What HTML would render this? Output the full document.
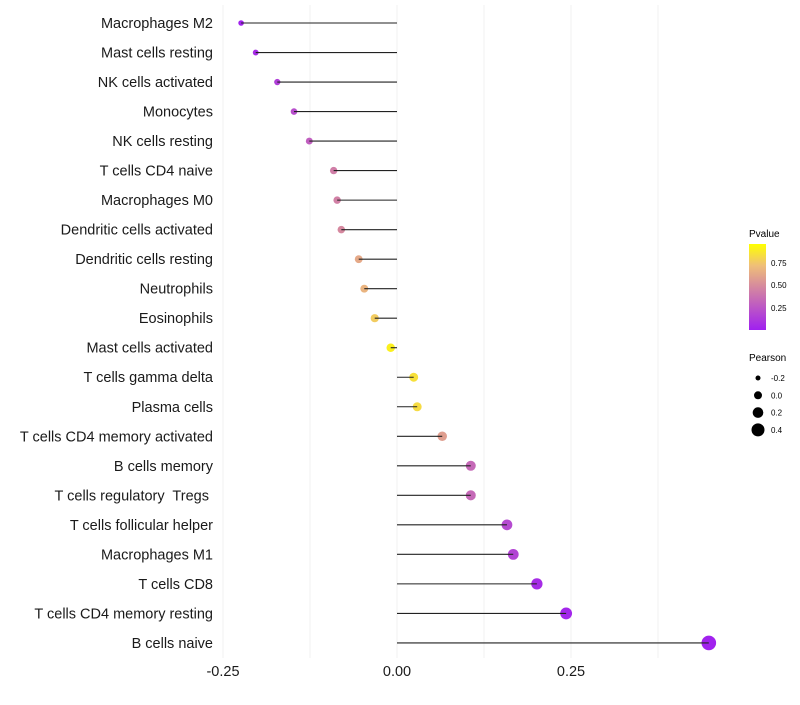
<!DOCTYPE html>
<html><head><meta charset="utf-8"><style>
body{margin:0;background:#fff;font-family:"Liberation Sans",Arial,sans-serif}
svg text{font-family:"Liberation Sans",Arial,sans-serif;white-space:pre}
</style></head><body>
<svg id="chart" width="800" height="700">
<defs><linearGradient id="pg" x1="0" y1="1" x2="0" y2="0">
<stop offset="0" stop-color="#a020f0"/><stop offset="0.5" stop-color="#d5889f"/><stop offset="0.75" stop-color="#efbf78"/><stop offset="1" stop-color="#ffff00"/></linearGradient></defs>
<g id="grid"></g><g id="dots"></g><g id="marks"></g><g id="ylab"></g><g id="xlab"></g>
<g>
<text x="749" y="237" font-size="10">Pvalue</text>
<rect x="749" y="244" width="17" height="86" fill="url(#pg)"/>
<text x="771" y="266" font-size="8">0.75</text><text x="771" y="288" font-size="8">0.50</text><text x="771" y="311" font-size="8">0.25</text>
</g>
<g id="sizeleg"><text x="749" y="361" font-size="10">Pearson</text></g>
</svg>
<script>
const categories=["Macrophages M2","Mast cells resting","NK cells activated","Monocytes","NK cells resting","T cells CD4 naive","Macrophages M0","Dendritic cells activated","Dendritic cells resting","Neutrophils","Eosinophils","Mast cells activated","T cells gamma delta","Plasma cells","T cells CD4 memory activated","B cells memory","T cells regulatory  Tregs ","T cells follicular helper","Macrophages M1","T cells CD8","T cells CD4 memory resting","B cells naive"];
const pearson=[-0.224,-0.203,-0.172,-0.148,-0.126,-0.091,-0.086,-0.080,-0.055,-0.047,-0.032,-0.009,0.024,0.029,0.065,0.106,0.106,0.158,0.167,0.201,0.243,0.448];
const pvalues=[0.01,0.06,0.15,0.22,0.3,0.45,0.46,0.5,0.65,0.7,0.8,0.94,0.88,0.86,0.6,0.35,0.35,0.2,0.17,0.06,0.03,0.01];
const xTicks=[-0.25,0,0.25];
const xTickLabels=["-0.25","0.00","0.25"];
const sizeLegend=[-0.2,0,0.2,0.4];
const sizeLegendLabels=["-0.2","0.0","0.2","0.4"];
const NS="http://www.w3.org/2000/svg";
const X=v=>397+v*696, Y=i=>23+i*29.52, R=v=>Math.max(1.6,4.3+6.7*v);
function col(p){const st=[[0,[160,32,240]],[0.5,[213,136,159]],[0.75,[239,191,120]],[1,[255,255,0]]];
for(let i=1;i<st.length;i++){if(p<=st[i][0]){const a=st[i-1],b=st[i],t=(p-a[0])/(b[0]-a[0]);return "rgb("+a[1].map((c,k)=>Math.round(c+(b[1][k]-c)*t)).join(",")+")";}}return "rgb(255,255,0)";}
function mk(t,at,parent){const e=document.createElementNS(NS,t);for(const k in at)e.setAttribute(k,at[k]);document.getElementById(parent).appendChild(e);return e;}
for(let v=-0.25;v<=0.375;v+=0.125){const l=mk("line",{x1:X(v),x2:X(v),y1:5,y2:658,stroke:"#f2f2f2","stroke-width":1},"grid");

}
xTicks.forEach((v,i)=>{const t=mk("text",{x:X(v),y:676,"font-size":14.5,"text-anchor":"middle",fill:"#1a1a1a"},"xlab");t.textContent=xTickLabels[i];

});
categories.forEach((c,i)=>{const y=Y(i);
const t=mk("text",{x:213,y:y+5,"font-size":14.5,"text-anchor":"end",fill:"#1a1a1a"},"ylab");t.textContent=c;


const d=mk("circle",{cx:X(pearson[i]),cy:y,r:R(pearson[i]),fill:col(pvalues[i])},"dots");


const l=mk("line",{x1:X(0),x2:X(pearson[i]),y1:y,y2:y,stroke:"#222","stroke-width":1.1},"marks");

});
sizeLegend.forEach((v,i)=>{const y=378+i*17.3;
const c=mk("circle",{cx:758,cy:y,r:[2.5,4,5.3,6.5][i],fill:"#000"},"sizeleg");


const t=mk("text",{x:771,y:y+3,"font-size":8},"sizeleg");t.textContent=sizeLegendLabels[i];

});
</script>
</body></html>
